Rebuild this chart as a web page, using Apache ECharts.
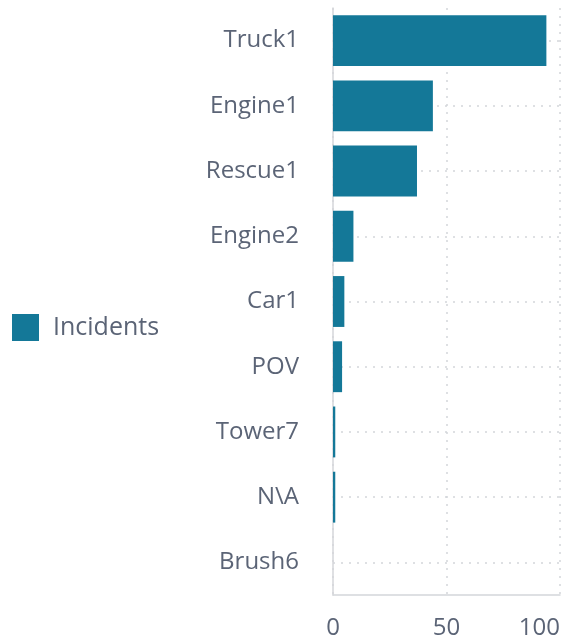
<!DOCTYPE html>
<html>
<head>
<meta charset="utf-8">
<script src="https://cdn.jsdelivr.net/npm/echarts@6/dist/echarts.min.js"></script>
<style>
  html, body { margin: 0; padding: 0; background: #fff; }
  #chart { width: 563px; height: 642px; }
</style>
</head>
<body>
<div id="chart"></div>
<script>
// units and their incident counts, top to bottom
const units = ['Truck1', 'Engine1', 'Rescue1', 'Engine2', 'Car1', 'POV', 'Tower7', 'N\\A', 'Brush6']
const incidents = [94, 44, 37, 9, 5, 4, 1, 1, 0]
const xTicks = { min: 0, max: 100, step: 50 }

const textColor = '#5b6476'
const gridColor = '#d4d6da'

const chart = echarts.init(document.getElementById('chart'))
chart.setOption({
  animation: false,
  textStyle: { fontFamily: 'Open Sans' },
  legend: {
    orient: 'vertical',
    left: 12,
    top: 314,
    padding: 0,
    itemWidth: 27,
    itemHeight: 27,
    itemGap: 14,
    icon: 'rect',
    textStyle: { fontSize: 25, color: textColor, padding: [0, 0, 0, 9] },
    data: ['Incidents'],
  },
  grid: { left: 333, right: 2, top: 8, bottom: 47, containLabel: false },
  xAxis: {
    type: 'value',
    min: xTicks.min,
    max: xTicks.max,
    interval: xTicks.step,
    axisLine: { show: true, lineStyle: { color: gridColor, width: 1.5 } },
    axisTick: { show: false },
    axisLabel: { fontSize: 24, color: textColor, margin: 21, alignMaxLabel: 'right' },
    splitLine: { show: true, lineStyle: { type: [2, 6], color: gridColor, width: 1.5 } },
  },
  yAxis: {
    type: 'category',
    inverse: true,
    data: units,
    axisLine: { show: true, lineStyle: { color: gridColor, width: 1.5 } },
    axisTick: { show: false },
    axisLabel: { fontSize: 24, color: textColor, margin: 34 },
    splitLine: { show: true, alignWithLabel: true, lineStyle: { type: [2, 6], color: gridColor, width: 1.5 } },
  },
  series: [
    {
      name: 'Incidents',
      type: 'bar',
      data: incidents,
      barCategoryGap: '22%',
      itemStyle: { color: '#147898' },
    },
  ],
})
</script>
</body>
</html>
